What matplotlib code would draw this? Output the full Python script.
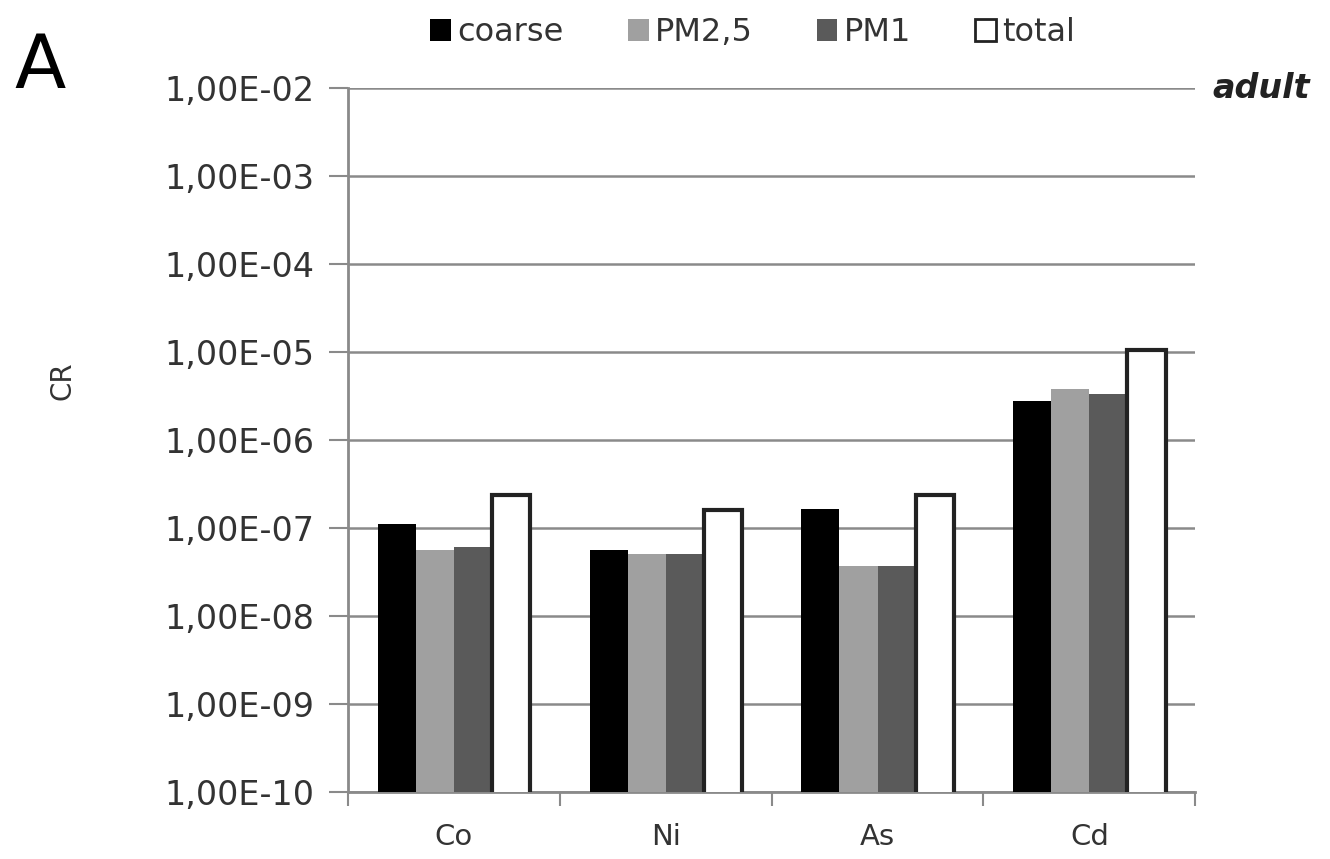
import numpy as np
from matplotlib import pyplot as plt
from matplotlib.ticker import FixedLocator, NullLocator
from matplotlib.patches import Patch

elements = ['Co', 'Ni', 'As', 'Cd']
coarse = [1.1e-7, 5.6e-8, 1.65e-7, 2.75e-6]
pm25 = [5.6e-8, 5.1e-8, 3.7e-8, 3.8e-6]
pm1 = [6.1e-8, 5.1e-8, 3.7e-8, 3.35e-6]
total = [2.35e-7, 1.6e-7, 2.4e-7, 1.05e-5]
ytick_vals = [1e-10, 1e-9, 1e-8, 1e-7, 1e-6, 1e-5, 1e-4, 1e-3, 1e-2]
ytick_labels = ['1,00E-10', '1,00E-09', '1,00E-08', '1,00E-07', '1,00E-06',
                '1,00E-05', '1,00E-04', '1,00E-03', '1,00E-02']

plt.rcParams['font.family'] = ['DejaVu Sans']
fig = plt.figure(figsize=(13.3, 8.59), dpi=100)
ax = fig.add_axes([0.2617, 0.078, 0.637, 0.8196])

x = np.arange(len(elements))
w = 0.18
series = [(coarse, 'black', 'black', 'coarse'),
          (pm25, '#a0a0a0', '#a0a0a0', 'PM2,5'),
          (pm1, '#5a5a5a', '#5a5a5a', 'PM1'),
          (total, 'white', '#222222', 'total')]
for i, (vals, fc, ec, lab) in enumerate(series):
    lw = 3 if fc == 'white' else 0
    ax.bar(x + (i - 1.5) * w, vals, w, color=fc, edgecolor=ec, linewidth=lw,
           label=lab, zorder=3)

ax.set_yscale('log')
ax.set_ylim(1e-10, 1e-2)
ax.set_xlim(-0.5, 3.5)
ax.yaxis.set_major_locator(FixedLocator(ytick_vals))
ax.yaxis.set_minor_locator(NullLocator())
ax.set_yticklabels(ytick_labels)
ax.grid(axis='y', color='#8a8a8a', linewidth=1.8, zorder=0)

ax.set_xticks(x)
ax.set_xticklabels(elements)
ax.set_xticks([-0.5, 0.5, 1.5, 2.5, 3.5], minor=True)
ax.tick_params(axis='x', which='major', length=0, pad=22, labelsize=21, labelcolor='#333333')
ax.tick_params(axis='x', which='minor', length=10, width=1.5, color='#8a8a8a')
ax.tick_params(axis='y', length=14, width=1.5, color='#8a8a8a', labelsize=24,
               labelcolor='#333333', pad=10)

for s in ['top', 'right']:
    ax.spines[s].set_visible(False)
ax.spines['left'].set_color('#8a8a8a')
ax.spines['left'].set_linewidth(2)
ax.spines['bottom'].set_color('#8a8a8a')
ax.spines['bottom'].set_linewidth(2)

fig.text(0.047, 0.557, 'CR', rotation=90, fontsize=20, color='#333333',
         ha='center', va='center')
fig.text(0.011, 0.921, 'A', fontsize=54, color='black', ha='left', va='center')
fig.text(0.985, 0.897, 'adult', fontsize=24, fontweight='bold', style='italic',
         color='#222222', ha='right', va='center')

handles = [Patch(facecolor=fc, edgecolor=ec, linewidth=2 if fc == 'white' else 0, label=lab)
           for _, fc, ec, lab in series]
fig.legend(handles=handles, loc='center', bbox_to_anchor=(0.566, 0.962), ncol=4,
           frameon=False, fontsize=23, handlelength=0.65, handleheight=0.65,
           handletextpad=0.2, columnspacing=2.0, labelcolor='#333333')

fig.savefig('out.png', dpi=100)
